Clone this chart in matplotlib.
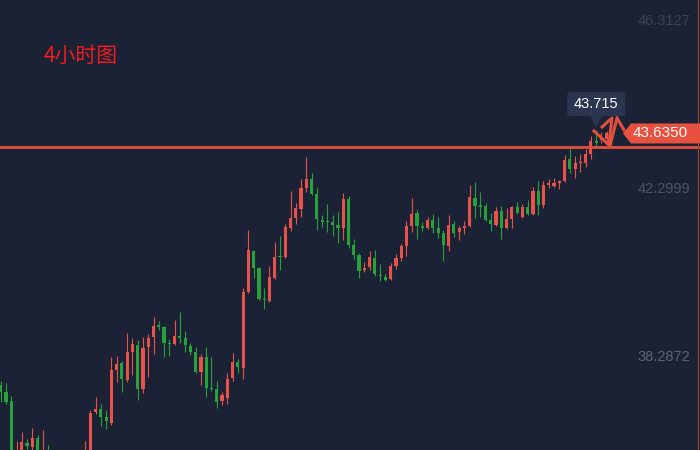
import matplotlib
matplotlib.use('Agg')
import matplotlib.pyplot as plt
from matplotlib.patches import Polygon, FancyBboxPatch
from matplotlib.lines import Line2D
import numpy as np

# ---- data (4-hour candles, price) ----
opens = [37.620, 37.453, 37.238, 35.540, 35.684, 36.234, 36.138, 36.353, 35.684, 36.018,
         35.588, 35.253, 35.540, 35.061, 35.444, 35.205, 35.468, 35.875, 36.975, 37.046,
         36.855, 36.712, 37.979, 38.146, 37.740, 38.410, 38.577, 37.525, 38.529, 38.768,
         39.055, 39.007, 38.625, 38.601, 38.792, 38.744, 38.553, 38.410, 37.931, 38.290,
         37.549, 37.525, 37.238, 37.310, 37.788, 38.170, 38.027, 39.844, 40.825, 40.418,
         39.677, 39.629, 40.179, 40.705, 40.681, 41.375, 41.614, 41.829, 42.331, 42.546,
         42.188, 41.566, 41.542, 41.518, 41.446, 41.375, 42.068, 40.968, 40.729, 40.370,
         40.442, 40.657, 40.251, 40.203, 40.155, 40.466, 40.657, 40.944, 41.422, 41.733,
         41.422, 41.375, 41.566, 41.375, 41.255, 40.944, 41.470, 41.279, 41.375, 41.422,
         42.092, 41.925, 41.901, 41.566, 41.446, 41.781, 41.375, 41.590, 41.877, 41.638,
         41.877, 41.709, 42.259, 41.925, 42.403, 42.379, 42.451, 42.498, 43.024, 42.785,
         42.929, 42.929, 43.144, 43.455, 43.479, 43.503]
highs = [37.716, 37.668, 37.357, 36.281, 36.496, 36.329, 36.592, 36.425, 36.544, 36.186,
         35.875, 35.779, 35.684, 35.588, 35.636, 35.779, 36.281, 37.023, 37.333, 37.166,
         37.023, 38.290, 38.314, 38.194, 38.864, 38.744, 38.696, 38.768, 38.840, 39.246,
         39.151, 39.031, 38.720, 39.175, 39.366, 38.912, 38.625, 38.529, 38.362, 38.529,
         38.290, 37.716, 37.453, 37.907, 38.386, 38.242, 39.940, 41.327, 40.849, 40.442,
         39.940, 40.466, 41.040, 41.183, 41.470, 42.259, 41.972, 42.546, 43.072, 42.690,
         42.355, 41.685, 41.949, 41.685, 41.757, 42.212, 42.140, 41.112, 40.777, 40.562,
         40.825, 40.849, 40.514, 40.275, 40.538, 40.753, 40.992, 41.542, 42.092, 41.805,
         41.518, 41.638, 41.709, 41.638, 41.327, 41.685, 41.542, 41.422, 41.542, 42.403,
         42.475, 42.235, 41.972, 41.733, 41.877, 41.901, 41.853, 41.901, 41.996, 41.949,
         42.044, 42.355, 42.498, 42.498, 42.546, 42.570, 42.522, 43.120, 43.288, 43.096,
         43.144, 43.264, 43.574, 43.715, 43.670, 43.694]
lows = [37.214, 37.166, 35.396, 35.349, 35.540, 35.923, 36.042, 35.636, 35.540, 35.444,
        35.061, 35.109, 34.918, 34.966, 35.013, 35.061, 35.349, 35.779, 36.927, 36.640,
        36.568, 36.664, 37.692, 37.453, 37.692, 37.860, 37.262, 37.429, 37.812, 38.362,
        38.936, 38.290, 38.314, 38.580, 38.625, 38.410, 38.338, 37.907, 37.620, 37.333,
        37.477, 37.070, 37.142, 37.166, 37.716, 37.907, 37.764, 39.820, 40.179, 39.653,
        39.438, 39.605, 40.155, 40.370, 40.657, 41.303, 41.470, 41.638, 42.235, 42.164,
        41.327, 41.399, 41.279, 41.183, 41.016, 41.088, 40.896, 40.633, 40.179, 40.322,
        40.370, 40.227, 40.107, 40.107, 40.131, 40.394, 40.586, 40.705, 41.279, 41.112,
        41.303, 41.351, 41.255, 41.135, 40.586, 40.825, 41.159, 41.088, 41.231, 41.399,
        41.614, 41.638, 41.542, 41.303, 41.422, 41.112, 41.351, 41.375, 41.709, 41.614,
        41.685, 41.685, 41.685, 41.853, 42.331, 42.355, 42.307, 42.475, 42.690, 42.570,
        42.714, 42.833, 43.024, 43.335, 43.407, 43.431]
closes = [37.453, 37.214, 35.588, 35.875, 36.257, 36.162, 36.353, 35.779, 35.923, 35.588,
          35.229, 35.540, 35.109, 35.396, 35.157, 35.588, 35.947, 36.951, 37.046, 36.855,
          36.760, 37.979, 38.123, 37.764, 38.410, 38.601, 37.525, 38.505, 38.744, 39.031,
          39.007, 38.625, 38.601, 38.792, 38.744, 38.577, 38.410, 37.931, 38.290, 37.549,
          37.525, 37.214, 37.381, 37.764, 38.170, 38.051, 39.844, 40.849, 40.418, 39.677,
          39.653, 40.203, 40.681, 40.681, 41.399, 41.614, 41.853, 42.331, 42.546, 42.188,
          41.590, 41.518, 41.518, 41.446, 41.375, 42.068, 40.968, 40.729, 40.346, 40.418,
          40.681, 40.275, 40.227, 40.131, 40.466, 40.657, 40.944, 41.422, 41.709, 41.422,
          41.375, 41.566, 41.375, 41.255, 40.968, 41.446, 41.255, 41.375, 41.422, 42.116,
          41.901, 41.877, 41.566, 41.470, 41.781, 41.375, 41.590, 41.877, 41.733, 41.877,
          41.709, 42.259, 41.925, 42.403, 42.451, 42.451, 42.498, 43.001, 42.785, 42.929,
          42.953, 43.144, 43.455, 43.407, 43.551, 43.635]
axis_ticks = [46.3127, 42.2999, 38.2872]
level_line = 43.32
title_text = "4小时图"

# ---- style ----
BG = '#1c2235'
UP = '#e9524a'
DOWN = '#27a23a'
LINE_RED = '#e0513e'

fig = plt.figure(figsize=(7, 4.5), dpi=100, facecolor=BG)
ax = fig.add_axes([0, 0, 1, 1])
ax.set_facecolor(BG)

o = np.array(opens); h = np.array(highs); l = np.array(lows); c = np.array(closes)
x = np.arange(len(o))
colors = np.where(c >= o, UP, DOWN)

ax.vlines(x, l, h, colors=colors, linewidth=0.8, zorder=2)
ax.bar(x, np.maximum(np.abs(c - o), 0.03), bottom=np.minimum(o, c), width=0.6,
       color=colors, linewidth=0, zorder=3)

ax.set_xlim(-0.133, 132.7)
ax.set_ylim(36.066, 46.8265)
ax.axis('off')

# horizontal level line
ax.axhline(level_line, color=LINE_RED, lw=2.0, zorder=4)

# right price axis labels
tick_cols = ['#3a4159', '#4b5268', '#5c637a']
for v, col in zip(axis_ticks, tick_cols):
    ax.text(0.986, v, f"{v:.4f}", transform=ax.get_yaxis_transform(), ha='right',
            va='center', color=col, fontsize=10.5, family='Liberation Sans')

# title
fig.text(44 / 700, 1 - 56 / 450, title_text, color='#ee1c1c', fontsize=15,
         family=['Noto Sans CJK SC', 'DejaVu Sans'], ha='left', va='center')

fig.canvas.draw()
# current price tag
_, yd = ax.transData.transform((0, c[-1]))
tag = Polygon([(623, yd), (631, yd + 10), (700, yd + 10), (700, yd - 10), (631, yd - 10)],
              closed=True, transform=None, facecolor='#e8503f', edgecolor='none', zorder=6)
fig.add_artist(tag)
fig.text(633 / 700, yd / 450, f"{c[-1]:.4f}", color='white', fontsize=11,
         family='Liberation Sans', ha='left', va='center', zorder=7)

# tooltip with high of candle
imax = int(np.argmax(h))
xd, yh = ax.transData.transform((imax, h[imax]))
apex = yh + 3
box = FancyBboxPatch((xd - 29, apex + 11), 58, 24, boxstyle='round,pad=0,rounding_size=3',
                     transform=None, facecolor='#2b3550', edgecolor='none', zorder=6)
fig.add_artist(box)
tri = Polygon([(xd - 6, apex + 11.5), (xd + 6, apex + 11.5), (xd, apex)], closed=True,
              transform=None, facecolor='#2b3550', edgecolor='none', zorder=6)
fig.add_artist(tri)
fig.text(xd / 700, (apex + 23) / 450, f"{h[imax]:.3f}", color='white', fontsize=10.5,
         family='Liberation Sans', ha='center', va='center', zorder=7)

# hand-drawn zigzag mark
zz = [(594, 131), (610, 146), (617, 118), (624, 130)]
fig.add_artist(Line2D([p[0] for p in zz], [450 - p[1] for p in zz], transform=None,
                      color='#e0513e', lw=2.2, solid_joinstyle='miter', zorder=5))
zz2 = [(602, 127), (612, 118), (609, 143)]
fig.add_artist(Line2D([p[0] for p in zz2], [450 - p[1] for p in zz2], transform=None,
                      color='#e0513e', lw=2.2, zorder=5))

# right border line
fig.add_artist(Line2D([697.5 / 700] * 2, [0, 1], transform=fig.transFigure,
                      color='#9c4a32', lw=0.8))

fig.savefig('out.png', dpi=100, facecolor=BG)
